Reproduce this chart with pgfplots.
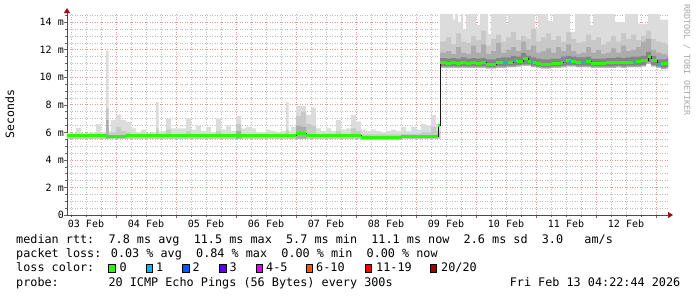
\documentclass[border=0pt]{standalone}
\usepackage{pgfplots}
\pgfplotsset{compat=1.18}
\usepgfplotslibrary{fillbetween}
\usetikzlibrary{arrows.meta}
\usepackage{pgfplotstable}
\usepackage{fontspec}
\setmainfont{DejaVu Sans Mono}
\setmonofont{DejaVu Sans Mono}
\definecolor{mgrid}{HTML}{E49A9A}
\definecolor{ngrid}{HTML}{BDBDBD}
\definecolor{sA}{HTML}{DCDCDC}
\definecolor{sB}{HTML}{C8C8C8}
\definecolor{sC}{HTML}{ACACAC}
\definecolor{sD}{HTML}{858585}
\definecolor{c0}{HTML}{26FF00}
\definecolor{c1}{HTML}{00B8FF}
\definecolor{c2}{HTML}{0059FF}
\definecolor{c3}{HTML}{5E00FF}
\definecolor{c4}{HTML}{DD00FF}
\definecolor{c6}{HTML}{FF5500}
\definecolor{c11}{HTML}{FF0000}
\definecolor{c20}{HTML}{A10000}
\definecolor{arr}{HTML}{A01010}
\newcommand\tickfont{\fontsize{10bp}{12bp}\selectfont}
\newcommand\legfont{\fontsize{11.8bp}{14bp}\selectfont}

% smoke bands: lo = lowest ping, dlo/dhi = dark core, m3 / m2 = upper quantiles
\pgfplotstableread{
h lo dlo dhi m3 m2
4 5.55 5.55 5.55 5.55 5.88
8 5.55 5.55 5.55 5.55 5.9
10 5.55 5.55 5.55 5.55 5.88
14 5.55 5.55 5.55 5.55 5.9
16 5.55 5.55 5.55 5.55 5.95
18 5.55 5.55 5.55 5.55 5.9
20 5.55 5.55 5.55 6.9 7.76
21 5.55 5.55 5.55 5.55 5.9
22 5.55 5.55 5.55 5.55 6.0
24 5.55 5.55 5.55 5.55 6.4
26 5.55 5.55 5.55 5.55 6.1
28 5.55 5.55 5.55 5.55 6.0
30 5.55 5.55 5.55 5.55 5.9
40 5.55 5.55 5.55 5.55 6.3
41 5.55 5.55 5.55 5.55 5.9
44 5.55 5.55 5.55 5.55 6.2
46 5.55 5.55 5.55 5.55 5.9
52 5.55 5.55 5.55 5.55 6.1
54 5.55 5.55 5.55 5.55 5.9
64 5.55 5.55 5.55 5.55 6.1
66 5.55 5.55 5.55 5.55 5.9
72 5.55 5.55 5.55 6.1 6.6
74 5.55 5.55 5.55 5.55 5.9
92 5.55 5.55 5.55 5.55 6.2
93 5.55 5.55 5.55 5.55 5.9
96 5.55 5.55 5.55 6.5 7.2
98 5.55 5.55 5.55 6.4 7.5
100 5.55 5.55 5.55 5.55 6.6
102 5.55 5.55 5.55 5.55 6.5
104 5.55 5.55 5.55 5.55 5.9
112 5.55 5.55 5.55 5.55 6.1
114 5.55 5.55 5.55 5.55 5.9
118 5.55 5.55 5.55 5.55 6.3
120 5.55 5.55 5.55 5.55 6.1
122 5.5 5.5 5.5 5.5 5.85
138 5.55 5.55 5.55 5.55 5.9
146 5.55 5.55 5.55 5.55 6.0
150 5.55 5.55 5.55 5.55 6.4
152 5.55 5.55 5.55 5.55 6.1
153.6 10.7 10.8 11.4 11.8 12.6
156 10.7 10.8 11.35 11.9 12.9
158 10.7 10.8 11.4 11.7 12.4
160 10.7 10.8 11.35 12.2 13.2
162 10.7 10.8 11.45 11.8 12.6
164 10.7 10.8 11.35 11.7 12.5
166 10.7 10.8 11.4 12.3 13.0
168 10.7 10.8 11.35 11.8 12.7
170 10.7 10.8 11.4 12.4 13.4
172 10.65 10.75 11.3 11.7 12.3
174 10.65 10.75 11.3 11.9 12.8
176 10.7 10.8 11.4 12.5 13.1
178 10.7 10.8 11.45 11.8 12.6
180 10.75 10.85 11.45 12.0 12.9
182 10.75 10.85 11.55 12.2 13.3
184 10.8 10.9 11.5 11.9 12.7
186 10.85 10.95 11.75 12.6 13.0
188 10.85 10.95 11.55 12.0 12.8
190 10.75 10.85 11.45 12.3 13.5
192 10.7 10.8 11.35 11.8 12.6
194 10.65 10.75 11.3 11.9 12.9
196 10.65 10.75 11.3 12.1 13.2
198 10.7 10.8 11.35 11.8 12.7
200 10.7 10.8 11.35 12.2 13.0
202 10.75 10.85 11.5 11.9 12.6
204 10.8 10.9 11.55 12.4 13.3
206 10.8 10.9 11.5 11.9 12.8
208 10.75 10.85 11.45 11.7 12.5
210 10.75 10.85 11.45 11.8 12.6
212 10.75 10.85 11.5 12.2 13.1
214 10.7 10.8 11.35 11.8 12.7
216 10.7 10.8 11.35 12.0 12.9
218 10.7 10.8 11.35 11.7 12.4
220 10.7 10.8 11.4 11.8 12.6
222 10.7 10.8 11.4 12.1 13.0
224 10.75 10.85 11.45 11.8 12.6
226 10.7 10.8 11.4 12.3 13.2
228 10.75 10.85 11.45 11.9 12.8
230 10.75 10.85 11.5 12.0 13.1
232 10.75 10.85 11.5 12.2 12.7
234 10.8 10.9 11.55 12.6 13.0
236 11.0 11.1 11.85 12.8 13.4
238 10.8 10.9 11.55 12.0 12.8
240 10.7 10.8 11.3 11.8 12.6
242 10.6 10.7 11.3 11.7 12.5
244 10.65 10.75 11.35 11.6 12.4
244.8 10.65 10.75 11.35 11.6 12.4
}\smoke

% highest ping of each interval
\pgfplotstableread{
h mx
4 5.95
8 6.33
10 5.95
14 6.0
16 6.6
18 6.0
20 11.9
21 6.1
22 6.9
24 7.3
26 6.9
28 6.75
30 6.3
32 6.0
34 6.2
36 5.95
38 6.0
40 8.2
41 6.1
44 7.0
46 6.3
52 7.0
54 6.2
56 6.5
58 6.1
60 6.4
62 6.0
64 7.0
66 6.2
68 6.5
70 6.1
72 7.2
74 6.3
76 6.4
78 6.3
80 6.0
84 6.2
86 6.1
88 6.0
90 6.1
92 8.2
93 6.1
94 6.4
96 7.9
100 7.25
102 7.8
104 6.3
106 6.1
108 6.3
110 6.1
112 6.9
114 6.2
116 6.3
118 7.25
120 6.8
122 6.2
124 6.1
126 6.2
128 6.1
130 6.0
132 6.1
134 6.2
136 6.1
138 6.4
140 6.1
142 6.4
144 6.2
146 6.6
148 6.5
150 7.25
152 6.6
153.6 14.9
158.8 14.2
159.6 14.9
160.8 14.0
162 14.9
162.8 13.5
164 14.9
168 13.8
169.6 14.9
172.8 13.15
174 14.9
180 13.9
180.6 14.9
191.6 13.6
192.8 14.9
196.8 14.1
198.8 14.9
205.6 13.3
207.6 14.9
213.6 13.8
214.8 14.9
223.6 14.0
227.6 14.9
232.8 13.9
236.8 14.9
241.6 14.2
244.8 14.2
}\maxt

\pgfplotstableread{
h med
4 5.74
12 5.75
20 5.72
22 5.68
28 5.74
48 5.75
72 5.76
96 5.95
100 5.76
122 5.65
138 5.72
152.8 6.5
153.6 11.05
156 11.0
158 11.05
160 11.0
162 11.1
164 11.0
166 11.05
168 11.0
170 11.05
172 10.95
176 11.05
178.8 11.1
182.8 11.2
184.4 11.15
186.8 11.4
188.8 11.15
190 11.1
192 11.0
194 10.95
198 11.0
202 11.1
202.8 11.2
206 11.15
208 11.1
212 11.15
214 11.0
220 11.05
224 11.1
226 11.05
228 11.1
230.8 11.1
232 11.15
234 11.2
236.8 11.5
238 11.2
240.4 10.95
242 11.0
244.8 11.0
}\med

\begin{document}
\begin{tikzpicture}
\path (0bp,0bp) rectangle (697bp,-297bp);
\begin{axis}[
  at={(67bp,-215bp)}, anchor=south west,
  scale only axis, width=601bp, height=201bp,
  xmin=4.4, xmax=244.8, ymin=0, ymax=14.6,
  axis lines=left,
  axis line style={black!70, line width=0.8bp},
  x axis line style={-{Triangle[length=5bp,width=6bp,color=arr]}, shorten >=-5bp},
  y axis line style={-{Triangle[length=5bp,width=6bp,color=arr]}, shorten >=-6bp},
  xtick={24,48,...,240},
  xticklabels={{},{},{},{},{},{},{},{},{},{}},
  minor xtick={6,12,18,30,36,42,54,60,66,78,84,90,102,108,114,126,132,138,150,156,162,174,180,186,198,204,210,222,228,234},
  extra x ticks={12,36,60,84,108,132,156,180,204,228},
  extra x tick labels={03 Feb,04 Feb,05 Feb,06 Feb,07 Feb,08 Feb,09 Feb,10 Feb,11 Feb,12 Feb},
  extra x tick style={grid=none, major tick length=0pt},
  ytick={0,2,4,6,8,10,12,14},
  yticklabels={0\hspace{4.5bp},2 m,4 m,6 m,8 m,10 m,12 m,14 m},
  minor ytick={0.5,1,1.5,2.5,3,3.5,4.5,5,5.5,6.5,7,7.5,8.5,9,9.5,10.5,11,11.5,12.5,13,13.5,14.5},
  grid=both,
  major grid style={draw=mgrid, line width=0.8bp, dash pattern=on 1bp off 1.5bp},
  minor grid style={draw=ngrid, line width=0.8bp, dash pattern=on 1bp off 1.5bp},
  major tick length=3bp, minor tick length=2bp,
  tick style={black!60, line width=0.6bp},
  tick align=outside,
  xticklabel style={font=\tickfont, anchor=north, inner sep=0pt, yshift=-5bp},
  yticklabel style={font=\tickfont, anchor=east, inner sep=0pt},
]
\addplot[name path=LO, draw=none, const plot] table[x=h,y=lo]{\smoke};
\addplot[name path=MX, draw=none, const plot] table[x=h,y=mx]{\maxt};
\addplot[name path=MB, draw=none, const plot] table[x=h,y=m2]{\smoke};
\addplot[name path=MC, draw=none, const plot] table[x=h,y=m3]{\smoke};
\addplot[name path=DL, draw=none, const plot] table[x=h,y=dlo]{\smoke};
\addplot[name path=DH, draw=none, const plot] table[x=h,y=dhi]{\smoke};
\addplot[fill=sA, draw=none] fill between[of=LO and MX];
\addplot[fill=sB, draw=none] fill between[of=LO and MB];
\addplot[fill=sC, draw=none] fill between[of=LO and MC];
\addplot[fill=sD, draw=none] fill between[of=DL and DH];
\addplot[const plot, draw=black!90, line width=0.9bp] table[x=h,y=med]{\med};
\addplot[jump mark left, draw=c0, line width=3bp] table[x=h,y=med]{\med};
\addplot[draw=c1, line width=3bp] coordinates {(178.8,11.1) (180.8,11.1)};
\addplot[draw=c1, line width=3bp] coordinates {(182.8,11.2) (184.0,11.2)};
\addplot[draw=c1, line width=3bp] coordinates {(190.0,11.1) (190.8,11.1)};
\addplot[draw=c1, line width=3bp] coordinates {(202.8,11.2) (204.0,11.2)};
\addplot[draw=c1, line width=3bp] coordinates {(205.2,11.15) (206.0,11.15)};
\addplot[draw=c1, line width=3bp] coordinates {(210.0,11.1) (212.0,11.1)};
\addplot[draw=c1, line width=3bp] coordinates {(230.8,11.1) (232.0,11.1)};
\addplot[draw=c1, line width=3bp] coordinates {(240.4,10.95) (242.0,10.95)};
\end{axis}
\node[rotate=90, anchor=base, inner sep=0pt, font=\fontsize{11.5bp}{13bp}\selectfont] at (14bp,-114bp) {Seconds};
\node[rotate=-90, anchor=base west, inner sep=0pt, text=black!35, font=\fontsize{8.4bp}{10bp}\selectfont] at (684bp,-4bp) {RRDTOOL / TOBI OETIKER};
\node[anchor=base west, inner sep=0pt, font=\legfont] at (16bp,-243.3bp) {median rtt:~~7.8 ms avg~~11.5 ms max~~5.7 ms min~~11.1 ms now~~2.6 ms sd~~3.0~~~am/s};
\node[anchor=base west, inner sep=0pt, font=\legfont] at (16bp,-257.6bp) {packet loss: 0.03 \% avg~~0.84 \% max~~0.00 \% min~~0.00 \% now};
\node[anchor=base west, inner sep=0pt, font=\legfont] at (16bp,-271.9bp) {loss color:};
\node[anchor=base west, inner sep=0pt, font=\legfont] at (16bp,-286.2bp) {probe:~~~~~~~20 ICMP Echo Pings (56 Bytes) every 300s};
\node[anchor=base east, inner sep=0pt, font=\legfont] at (680.5bp,-286.2bp) {Fri Feb 13 04:22:44 2026};
\foreach \xx/\cc/\lx/\lab in {108.3/c0/119.3/0, 146/c1/156/1, 182.7/c2/192.3/2, 219.3/c3/229.3/3, 256/c4/266/4-5, 306/c6/316/6-10, 365/c11/376/11-19, 430/c20/441/{20/20}}{
  \draw[draw=black, fill=\cc, line width=0.8bp] (\xx bp,-272bp) rectangle ++(6.8bp,7.2bp);
  \node[anchor=base west, inner sep=0pt, font=\legfont] at (\lx bp,-271.9bp) {\lab};
}
\end{tikzpicture}
\end{document}
